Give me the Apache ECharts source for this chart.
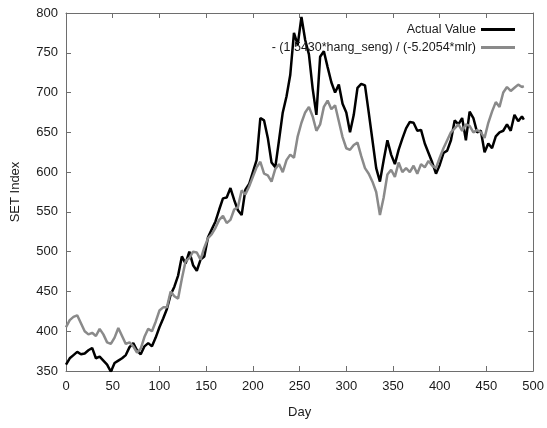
<!DOCTYPE html>
<html>
<head>
<meta charset="utf-8">
<script src="https://cdn.jsdelivr.net/npm/echarts@6/dist/echarts.min.js"></script>
<style>
html,body{margin:0;padding:0;background:#fff;}
#chart{width:547px;height:428px;}
</style>
</head>
<body>
<div id="chart"></div>
<script>
var days = [0,4,8,12,16,20,24,28,32,36,40,44,48,52,56,60,64,68,72,76,80,84,88,92,96,100,104,108,112,116,120,124,128,132,136,140,144,148,152,156,160,164,168,172,176,180,184,188,192,196,200,204,208,212,216,220,224,228,232,236,240,244,248,252,256,260,264,268,272,276,280,284,288,292,296,300,304,308,312,316,320,324,328,332,336,340,344,348,352,356,360,364,368,372,376,380,384,388,392,396,400,404,408,412,416,420,424,428,432,436,440,444,448,452,456,460,464,468,472,476,480,484,488,490];

var actualValue = [358,366,370,374,371,372,376,379,366,368,363,358,349,360,363,366,370,380,385,376,371,381,385,381,392,405,416,428,446,456,470,494,485,500,483,476,490,494,518,528,538,553,567,568,580,565,552,546,578,585,600,615,668,665,643,612,606,640,675,695,722,775,760,795,766,748,705,672,745,752,732,713,700,710,686,675,650,672,706,711,709,675,640,605,588,615,640,622,610,628,642,655,663,662,652,653,636,624,612,598,609,624,627,640,665,660,668,640,676,668,650,652,625,636,630,645,650,652,660,652,672,664,670,666];

var modelValue = [405,414,418,420,410,400,396,398,394,403,396,386,384,392,404,394,384,386,381,373,378,393,403,400,412,426,430,430,450,444,441,466,488,492,500,499,490,505,517,522,530,540,545,536,540,553,556,577,572,582,594,606,613,598,596,588,604,610,600,615,622,618,645,662,675,682,670,652,660,682,690,679,684,664,644,630,628,634,637,620,605,598,588,575,546,568,597,603,594,612,600,605,600,608,598,610,606,614,608,605,618,630,640,650,655,660,652,660,658,650,653,650,643,662,676,688,682,700,707,702,706,710,707,708];

var seriesNames = ['Actual Value', '- (1.5430*hang_seng) / (-5.2054*mlr)'];
var xTicks = {min:0, max:500, interval:50};
var yTicks = {min:350, max:800, interval:50};

function pairs(xs, ys){ return xs.map(function(x,i){ return [x, ys[i]]; }); }

var font = '"Liberation Sans", Arial, sans-serif';
var axisColor = '#6e6e6e';
var textColor = '#1a1a1a';

var chart = echarts.init(document.getElementById('chart'), null, {renderer:'canvas'});
chart.setOption({
  animation:false,
  backgroundColor:'#fff',
  textStyle:{fontFamily:font},
  grid:{left:66, right:12, top:13, bottom:57, containLabel:false},
  legend:{
    orient:'vertical', right:27, top:18, align:'right',
    itemWidth:34, itemHeight:3, itemGap:5,
    icon:'rect',
    textStyle:{fontFamily:font, fontSize:12.5, color:textColor, padding:[0,0,0,0]},
    data:[{name:seriesNames[0], itemStyle:{color:'#000'}},{name:seriesNames[1], itemStyle:{color:'#8a8a8a'}}]
  },
  xAxis:[{
    type:'value', min:xTicks.min, max:xTicks.max, interval:xTicks.interval,
    name:'Day', nameLocation:'middle', nameGap:35,
    nameTextStyle:{fontFamily:font, fontSize:13, color:textColor},
    axisLine:{show:true, onZero:false, lineStyle:{color:axisColor, width:1}},
    axisTick:{show:true, inside:true, length:5, lineStyle:{color:axisColor}},
    axisLabel:{fontFamily:font, fontSize:13, color:textColor, margin:9},
    splitLine:{show:false}
  },{
    type:'value', position:'top', min:xTicks.min, max:xTicks.max, interval:xTicks.interval,
    axisLine:{show:true, onZero:false, lineStyle:{color:axisColor, width:1}},
    axisTick:{show:true, inside:true, length:5, lineStyle:{color:axisColor}},
    axisLabel:{show:false}, splitLine:{show:false}
  }],
  yAxis:[{
    type:'value', min:yTicks.min, max:yTicks.max, interval:yTicks.interval,
    name:'SET Index', nameLocation:'middle', nameGap:44, nameRotate:90,
    nameTextStyle:{fontFamily:font, fontSize:13, color:textColor},
    axisLine:{show:true, onZero:false, lineStyle:{color:axisColor, width:1}},
    axisTick:{show:true, inside:true, length:5, lineStyle:{color:axisColor}},
    axisLabel:{fontFamily:font, fontSize:13, color:textColor, margin:8},
    splitLine:{show:false}
  },{
    type:'value', position:'right', min:yTicks.min, max:yTicks.max, interval:yTicks.interval,
    axisLine:{show:true, onZero:false, lineStyle:{color:axisColor, width:1}},
    axisTick:{show:true, inside:true, length:5, lineStyle:{color:axisColor}},
    axisLabel:{show:false}, splitLine:{show:false}
  }],
  series:[{
    name:seriesNames[0], type:'line', xAxisIndex:0, yAxisIndex:0,
    data:pairs(days, actualValue), showSymbol:false, symbol:'none',
    lineStyle:{color:'#000', width:2.5}, itemStyle:{color:'#000'}, z:2
  },{
    name:seriesNames[1], type:'line', xAxisIndex:0, yAxisIndex:0,
    data:pairs(days, modelValue), showSymbol:false, symbol:'none',
    lineStyle:{color:'#8a8a8a', width:2.5}, itemStyle:{color:'#8a8a8a'}, z:3
  }]
});
</script>
</body>
</html>
